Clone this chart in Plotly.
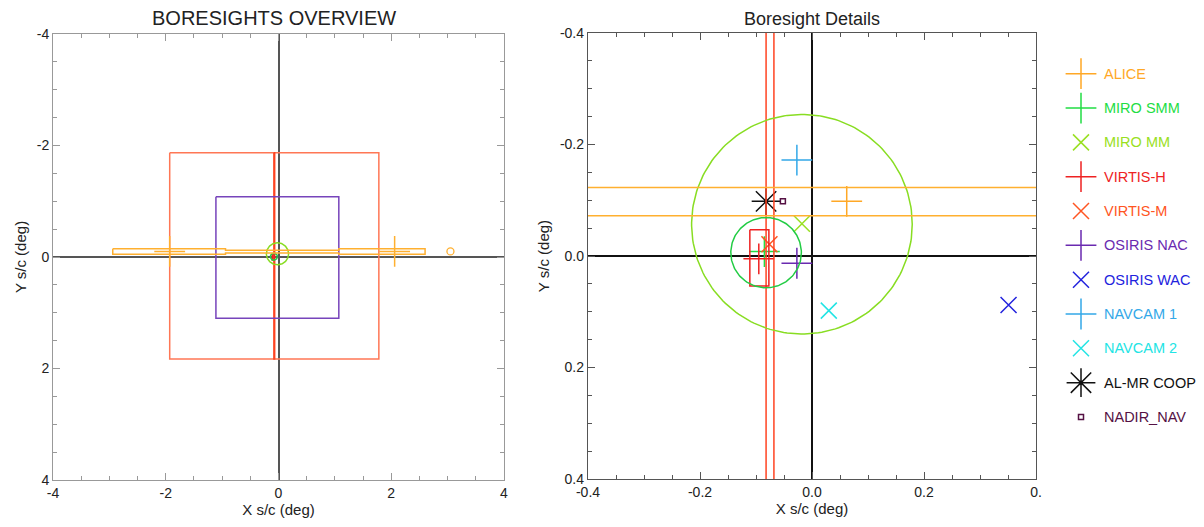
import numpy as np
import plotly.graph_objects as go

# ---------------- data ----------------
instruments = ["ALICE", "MIRO SMM", "MIRO MM", "VIRTIS-H", "VIRTIS-M", "OSIRIS NAC",
               "OSIRIS WAC", "NAVCAM 1", "NAVCAM 2", "AL-MR COOP", "NADIR_NAV"]
bore_x = [0.062, -0.085, -0.018, -0.095, -0.076, -0.027, 0.351, -0.027, 0.030, -0.082, -0.052]
bore_y = [-0.098, -0.008, -0.058, 0.005, -0.021, 0.013, 0.088, -0.172, 0.098, -0.098, -0.098]

# ALICE slit-end markers (overview)
alice_end_x = [-1.93, 2.06]
alice_end_y = [-0.10, -0.10]
alice_aux_x = [3.05]
alice_aux_y = [-0.10]

# rectangular fields of view: x0, x1, y0, y1
rect_names = ["VIRTIS-M scan", "VIRTIS-M slit", "OSIRIS NAC", "VIRTIS-H"]
rect_x0 = [-1.93, -0.082, -1.11, -0.111]
rect_x1 = [1.78, -0.068, 1.07, -0.077]
rect_y0 = [-1.87, -1.87, -1.08, -0.047]
rect_y1 = [1.83, 1.83, 1.10, 0.054]

# circular beams: centre x, centre y, radius
circ_names = ["MIRO MM", "MIRO SMM"]
circ_cx = [-0.018, -0.082]
circ_cy = [-0.057, -0.006]
circ_r = [0.197, 0.063]

# ALICE dog-bone slit
alice_slit_xs = [-2.94, -0.94, 1.07, 2.60]   # wide | narrow | wide breakpoints
alice_slit_yc = -0.0975
alice_slit_half_narrow = 0.0255
alice_slit_half_wide = 0.050

ov_ticks = [-4, -2, 0, 2, 4]
ov_ticktext = ["-4", "-2", "0", "2", "4"]
det_ticks = [-0.4, -0.2, 0.0, 0.2, 0.4]
det_yticktext = ["-0.4", "-0.2", "0.0", "0.2", "0.4"]
det_xticktext = ["-0.4", "-0.2", "0.0", "0.2", "0."]

# ---------------- styles ----------------
colors = ["#FFA826", "#22DD44", "#99E022", "#EE2222", "#FF5522", "#6A2AB0",
          "#2222DD", "#33A8E8", "#22E4E4", "#111111", "#551144"]
symbols = ["cross-thin-open", "cross-thin-open", "x-thin-open", "cross-thin-open",
           "x-thin-open", "cross-thin-open", "x-thin-open", "cross-thin-open",
           "x-thin-open", "asterisk-open", "square-open"]
sizes = [22, 22, 16, 22, 16, 22, 16, 22, 16, 24, 5]
rect_colors = ["#FF7755", "#FF4422", "#7744BB", "#EE2222"]
circ_colors = ["#88DD22", "#22CC44"]
alice_color = "#FFB030"

FONT = "Liberation Sans, Arial, sans-serif"
# page body has an 8px margin: the figure starts at (8, 8) on screen
OFF = 8
W, H = 1204 - OFF, 527 - OFF

fig = go.Figure()


def dom_x(p0, p1):
    return [(p0 - OFF) / W, (p1 - OFF) / W]


def dom_y(top, bottom):
    return [(H - (bottom - OFF)) / H, (H - (top - OFF)) / H]


def px_x(p):
    return (p - OFF) / W


def px_y(p):
    return 1 - (p - OFF) / H


def add_outlines(xa, ya):
    for x0, x1, y0, y1, c in zip(rect_x0, rect_x1, rect_y0, rect_y1, rect_colors):
        fig.add_trace(go.Scatter(x=[x0, x1, x1, x0, x0], y=[y0, y0, y1, y1, y0],
                                 mode="lines", line=dict(color=c, width=1.5),
                                 xaxis=xa, yaxis=ya, showlegend=False, hoverinfo="skip"))
    t = np.linspace(0, 2 * np.pi, 200)
    for cx, cy, r, c in zip(circ_cx, circ_cy, circ_r, circ_colors):
        fig.add_trace(go.Scatter(x=cx + r * np.cos(t), y=cy + r * np.sin(t),
                                 mode="lines", line=dict(color=c, width=1.5),
                                 xaxis=xa, yaxis=ya, showlegend=False, hoverinfo="skip"))
    a, b, c_, d = alice_slit_xs
    yc, hn, hw = alice_slit_yc, alice_slit_half_narrow, alice_slit_half_wide
    px = [a, b, b, c_, c_, d, d, c_, c_, b, b, a, a]
    py = [yc - hw, yc - hw, yc - hn, yc - hn, yc - hw, yc - hw, yc + hw, yc + hw,
          yc + hn, yc + hn, yc + hw, yc + hw, yc - hw]
    fig.add_trace(go.Scatter(x=px, y=py, mode="lines", line=dict(color=alice_color, width=1.5),
                             xaxis=xa, yaxis=ya, showlegend=False, hoverinfo="skip"))


# ---------- overview panel ----------
add_outlines("x", "y")
fig.add_trace(go.Scatter(x=alice_end_x, y=alice_end_y, mode="markers",
                         marker=dict(symbol="cross-thin-open", size=22, color=alice_color,
                                     line=dict(color=alice_color, width=1.5)),
                         xaxis="x", yaxis="y", showlegend=False, hoverinfo="skip"))
fig.add_trace(go.Scatter(x=alice_aux_x, y=alice_aux_y, mode="markers",
                         marker=dict(symbol="circle-open", size=7, color=alice_color,
                                     line=dict(color=alice_color, width=1.3)),
                         xaxis="x", yaxis="y", showlegend=False, hoverinfo="skip"))

# ---------- details panel ----------
for name, bx, by, c, s, sz in zip(instruments, bore_x, bore_y, colors, symbols, sizes):
    fig.add_trace(go.Scatter(x=[bx], y=[by], mode="markers", name=name,
                             marker=dict(symbol=s, size=sz, color=c,
                                         line=dict(color=c, width=1.5)),
                             xaxis="x2", yaxis="y2", showlegend=False))
    if s.startswith("asterisk"):
        fig.add_trace(go.Scatter(x=[bx], y=[by], mode="markers",
                                 marker=dict(symbol="circle", size=4, color=c),
                                 xaxis="x2", yaxis="y2", showlegend=False, hoverinfo="skip"))
add_outlines("x2", "y2")

# ---------- legend (hidden axis) ----------
leg_idx = list(range(len(instruments)))
for i, name, c, s, sz in zip(leg_idx, instruments, colors, symbols, sizes):
    fig.add_trace(go.Scatter(x=[21], y=[i], mode="markers",
                             marker=dict(symbol=s, size=sz, color=c,
                                         line=dict(color=c, width=1.5)),
                             xaxis="x3", yaxis="y3", showlegend=False, hoverinfo="skip"))
    if s.startswith("asterisk"):
        fig.add_trace(go.Scatter(x=[21], y=[i], mode="markers",
                                 marker=dict(symbol="circle", size=4, color=c),
                                 xaxis="x3", yaxis="y3", showlegend=False, hoverinfo="skip"))
    fig.add_annotation(x=42, y=i, xref="x3", yref="y3", text=name, showarrow=False,
                       xanchor="left", yanchor="middle",
                       font=dict(family=FONT, size=14.5, color=c))

# ---------- axes ----------
common = dict(ticks="inside", showline=True, mirror="ticks", showgrid=False,
              zeroline=True, automargin=False,
              tickfont=dict(family=FONT, size=14, color="#222"),
              title_font=dict(family=FONT, size=15, color="#222"))

fig.update_layout(
    xaxis=dict(domain=dom_x(53, 504), range=[-4, 4], tickvals=ov_ticks, ticktext=ov_ticktext,
               ticklen=7, tickcolor="#999", linecolor="#999", linewidth=1,
               zerolinecolor="#555", zerolinewidth=1.5,
               minor=dict(dtick=0.5, ticks="inside", ticklen=4, tickcolor="#999"),
               title=dict(text="X s/c (deg)", standoff=4), anchor="y", **common),
    yaxis=dict(domain=dom_y(34, 480), range=[4, -4], tickvals=ov_ticks, ticktext=ov_ticktext,
               ticklen=7, tickcolor="#999", linecolor="#999", linewidth=1,
               zerolinecolor="#555", zerolinewidth=1.5,
               minor=dict(dtick=0.5, ticks="inside", ticklen=4, tickcolor="#999"),
               title=dict(text="Y s/c (deg)", standoff=6), anchor="x", **common),
    xaxis2=dict(domain=dom_x(588, 1036), range=[-0.4, 0.4], tickvals=det_ticks,
                ticktext=det_xticktext,
                ticklen=7, tickcolor="#555", linecolor="#555", linewidth=1.3,
                zerolinecolor="#111", zerolinewidth=1.5,
                minor=dict(dtick=0.05, ticks="inside", ticklen=4, tickcolor="#555"),
                title=dict(text="X s/c (deg)", standoff=4), anchor="y2", **common),
    yaxis2=dict(domain=dom_y(33, 479), range=[0.4, -0.4], tickvals=det_ticks,
                ticktext=det_yticktext,
                ticklen=7, tickcolor="#555", linecolor="#555", linewidth=1.3,
                zerolinecolor="#111", zerolinewidth=1.5,
                minor=dict(dtick=0.05, ticks="inside", ticklen=4, tickcolor="#555"),
                title=dict(text="Y s/c (deg)", standoff=6), anchor="x2", **common),
    xaxis3=dict(domain=dom_x(1060, 1196), range=[0, 136], visible=False, anchor="y3",
                automargin=False),
    yaxis3=dict(domain=dom_y(40, 450), range=[(450 - 73.7) / 34.33, (40 - 73.7) / 34.33],
                visible=False, anchor="x3", automargin=False),
    width=W, height=H, autosize=False,
    margin=dict(l=0, r=0, t=0, b=0, autoexpand=False),
    paper_bgcolor="white", plot_bgcolor="white",
    showlegend=False,
)

fig.add_annotation(x=px_x(273.5), y=px_y(18), xref="paper", yref="paper",
                   text="BORESIGHTS OVERVIEW", showarrow=False,
                   xanchor="center", yanchor="middle",
                   font=dict(family=FONT, size=20, color="#222"))
fig.add_annotation(x=px_x(812), y=px_y(19), xref="paper", yref="paper",
                   text="Boresight Details", showarrow=False,
                   xanchor="center", yanchor="middle",
                   font=dict(family=FONT, size=18, color="#222"))

fig.write_html("out.html")
